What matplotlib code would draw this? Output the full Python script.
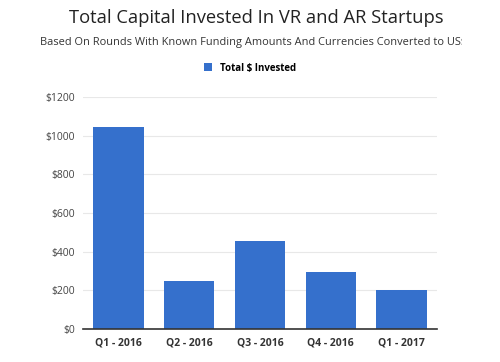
import numpy as np
import matplotlib.pyplot as plt
from matplotlib.transforms import Bbox

quarters = ['Q1 - 2016', 'Q2 - 2016', 'Q3 - 2016', 'Q4 - 2016', 'Q1 - 2017']
invested = [1045, 250, 455, 295, 200]
y_ticks = [0, 200, 400, 600, 800, 1000, 1200]

plt.rcParams['font.family'] = ['Open Sans', 'DejaVu Sans']

fig = plt.figure(figsize=(5, 3.62), dpi=100)
ax = fig.add_axes([83 / 500, 1 - 329 / 362, 354 / 500, 232 / 362])

x = np.arange(len(quarters))
ax.bar(x, invested, width=0.71, color='#3570cc', zorder=3, label='Total $ Invested')
ax.set_xlim(-0.5, len(quarters) - 0.5)
ax.set_ylim(0, 1200)
ax.set_yticks(y_ticks)
ax.set_yticklabels(['$%d' % v for v in y_ticks], fontsize=7.5, color='#444444')
ax.set_xticks(x)
ax.set_xticklabels(quarters, fontsize=7.5, color='#333333', fontweight='bold')
ax.tick_params(length=0, pad=6)
ax.grid(axis='y', color='#e8e8e8', linewidth=0.8, zorder=0)
for s in ['top', 'right', 'left']:
    ax.spines[s].set_visible(False)
ax.spines['bottom'].set_color('#333333')
ax.spines['bottom'].set_linewidth(1.2)
ax.spines['bottom'].set_zorder(4)

fig.text(0.513, 1 - 18 / 362, 'Total Capital Invested In VR and AR Startups',
         ha='center', va='center', fontsize=13.2, color='#222222')
sub = fig.text(40 / 500, 1 - 43 / 362,
               'Based On Rounds With Known Funding Amounts And Currencies Converted to US$',
               ha='left', va='center', fontsize=7.9, color='#333333')
sub.set_clip_box(Bbox.from_extents(0, 0, 462, 362))
sub.set_clip_on(True)

ax.legend(loc='center', bbox_to_anchor=(0.5, 1 - 68 / 362), bbox_transform=fig.transFigure,
          frameon=False, handlelength=0.9, handleheight=0.9,
          prop={'weight': 'bold', 'size': 7})

fig.savefig('out.png', dpi=100)
